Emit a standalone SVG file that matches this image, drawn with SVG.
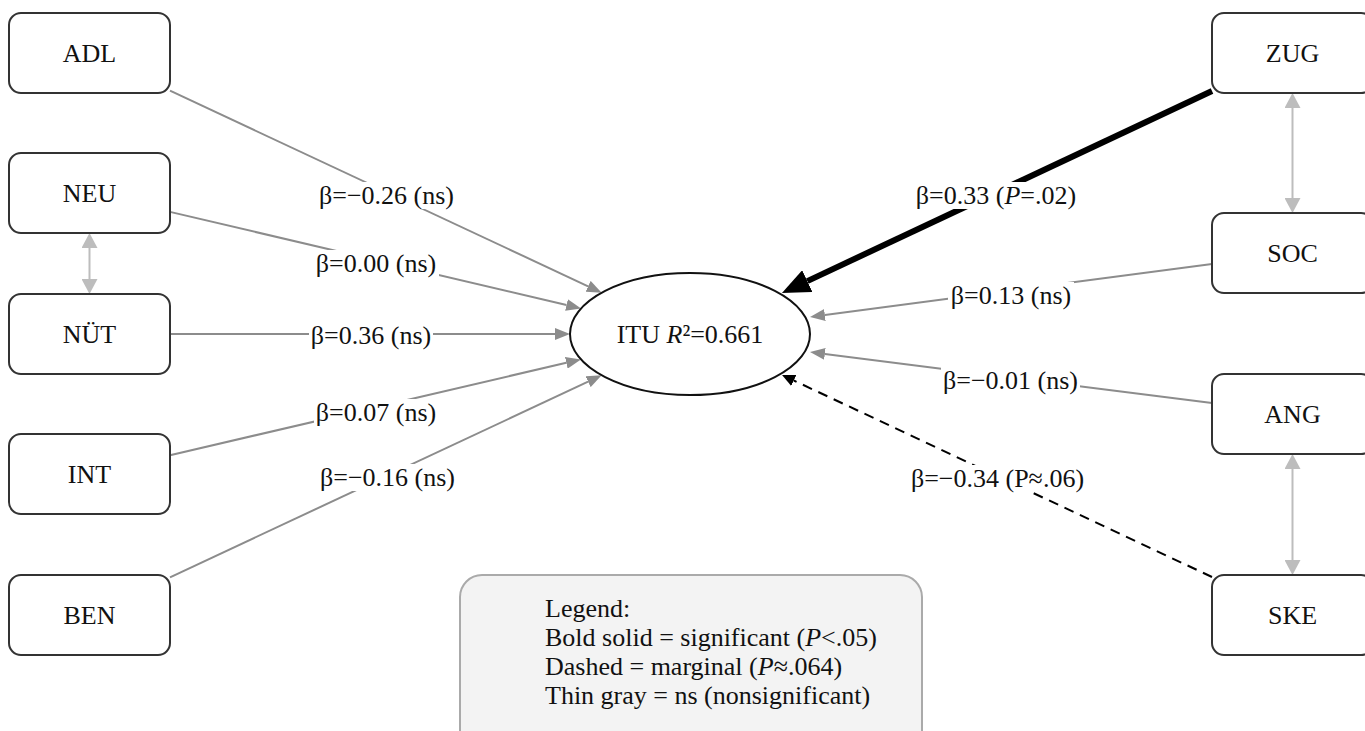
<svg xmlns="http://www.w3.org/2000/svg" width="1365" height="731" viewBox="0 0 1365 731">
<style>
text{font-family:"Liberation Serif","Times New Roman",serif;fill:#111;}
.nt{font-size:26px;text-anchor:middle;}
.lb{font-size:26px;text-anchor:middle;}
.bg{fill:#fff;}
.box{fill:#fff;stroke:#333;stroke-width:2;}
.ns{stroke:#8c8c8c;stroke-width:2;fill:none;marker-end:url(#ag);}
.cov{stroke:#bdbdbd;stroke-width:2;fill:none;marker-start:url(#ac);marker-end:url(#ac);}
.lg{font-size:26px;}
</style>
<defs>
<marker id="ag" markerUnits="userSpaceOnUse" markerWidth="15" markerHeight="12" refX="0" refY="6" orient="auto"><path d="M0,0 L15,6 L0,12 z" fill="#8c8c8c"/></marker>
<marker id="ab" markerUnits="userSpaceOnUse" markerWidth="28" markerHeight="24" refX="0" refY="12" orient="auto"><path d="M0,0 L28,12 L0,24 z" fill="#000"/></marker>
<marker id="ad" markerUnits="userSpaceOnUse" markerWidth="13" markerHeight="12" refX="0" refY="6" orient="auto"><path d="M0,0 L13,6 L0,12 z" fill="#000"/></marker>
<marker id="ac" markerUnits="userSpaceOnUse" markerWidth="15" markerHeight="16" refX="0" refY="8" orient="auto-start-reverse"><path d="M0,0 L15,8 L0,16 z" fill="#bdbdbd"/></marker>
</defs>
<rect width="1365" height="731" fill="#fff"/>
<g id="connectors">
<path class="ns" d="M170,90.7 L588.1,286.3"/>
<path class="ns" d="M170,211.9 L566.5,305"/>
<path class="ns" d="M170,334 L555,334"/>
<path class="ns" d="M170,455.2 L566.3,362.8"/>
<path class="ns" d="M170,577.3 L588.1,381.7"/>
<path d="M1212,91 L807.3,281.1" stroke="#000" stroke-width="6" fill="none" marker-end="url(#ab)"/>
<path class="ns" d="M1212,264 L824.9,315"/>
<path class="ns" d="M1212,403 L824.9,353.9"/>
<path d="M1212,577 L793.8,380.5" stroke="#000" stroke-width="2" stroke-dasharray="10,7" fill="none" marker-end="url(#ad)"/>
<path class="cov" d="M89.5,248 L89.5,279"/>
<path class="cov" d="M1292.5,108 L1292.5,198"/>
<path class="cov" d="M1292.5,469 L1292.5,560"/>
<g id="labels">
<rect class="bg" x="316" y="182" width="141" height="27"/><text class="lb" x="386.5" y="204">β=−0.26 (ns)</text>
<rect class="bg" x="314" y="250" width="125" height="27"/><text class="lb" x="376" y="272">β=0.00 (ns)</text>
<rect class="bg" x="309" y="323" width="124" height="27"/><text class="lb" x="371" y="344">β=0.36 (ns)</text>
<rect class="bg" x="314" y="399" width="125" height="27"/><text class="lb" x="376" y="421">β=0.07 (ns)</text>
<rect class="bg" x="318" y="464" width="140" height="27"/><text class="lb" x="387.5" y="486">β=−0.16 (ns)</text>
<rect class="bg" x="915" y="182" width="162" height="27"/><text class="lb" x="996" y="204">β=0.33 (<tspan font-style="italic">P</tspan>=.02)</text>
<rect class="bg" x="948" y="282" width="126" height="27"/><text class="lb" x="1011" y="304">β=0.13 (ns)</text>
<rect class="bg" x="941" y="367" width="139" height="27"/><text class="lb" x="1010.5" y="389">β=−0.01 (ns)</text>
<rect class="bg" x="910" y="465" width="175" height="27"/><text class="lb" x="997.5" y="487">β=−0.34 (P≈.06)</text>
</g>
</g>
<g id="ITU"><ellipse cx="690" cy="334" rx="120" ry="61" fill="#fff" stroke="#111" stroke-width="2"/><text class="nt" x="690" y="343">ITU <tspan font-style="italic">R</tspan>²=0.661</text></g>
<g id="ADL"><rect class="box" x="9" y="13" width="161" height="80" rx="12"/><text class="nt" x="89.5" y="62">ADL</text></g>
<g id="NEU"><rect class="box" x="9" y="153" width="161" height="80" rx="12"/><text class="nt" x="89.5" y="202">NEU</text></g>
<g id="NUT"><rect class="box" x="9" y="294" width="161" height="80" rx="12"/><text class="nt" x="89.5" y="343">NÜT</text></g>
<g id="INT"><rect class="box" x="9" y="434" width="161" height="80" rx="12"/><text class="nt" x="89.5" y="483">INT</text></g>
<g id="BEN"><rect class="box" x="9" y="575" width="161" height="80" rx="12"/><text class="nt" x="89.5" y="624">BEN</text></g>
<g id="ZUG"><rect class="box" x="1212" y="13" width="161" height="80" rx="12"/><text class="nt" x="1292.5" y="62">ZUG</text></g>
<g id="SOC"><rect class="box" x="1212" y="213" width="161" height="80" rx="12"/><text class="nt" x="1292.5" y="262">SOC</text></g>
<g id="ANG"><rect class="box" x="1212" y="374" width="161" height="80" rx="12"/><text class="nt" x="1292.5" y="423">ANG</text></g>
<g id="SKE"><rect class="box" x="1212" y="575" width="161" height="80" rx="12"/><text class="nt" x="1292.5" y="624">SKE</text></g>
<g id="legend">
<rect x="460" y="575" width="462" height="180" rx="22" fill="#f3f3f3" stroke="#aaa" stroke-width="2"/>
<text class="lg" x="545" y="617">Legend:</text>
<text class="lg" x="545" y="646">Bold solid = significant (<tspan font-style="italic">P</tspan>&lt;.05)</text>
<text class="lg" x="545" y="675">Dashed = marginal (<tspan font-style="italic">P</tspan>≈.064)</text>
<text class="lg" x="545" y="704">Thin gray = ns (nonsignificant)</text>
</g>
</svg>
